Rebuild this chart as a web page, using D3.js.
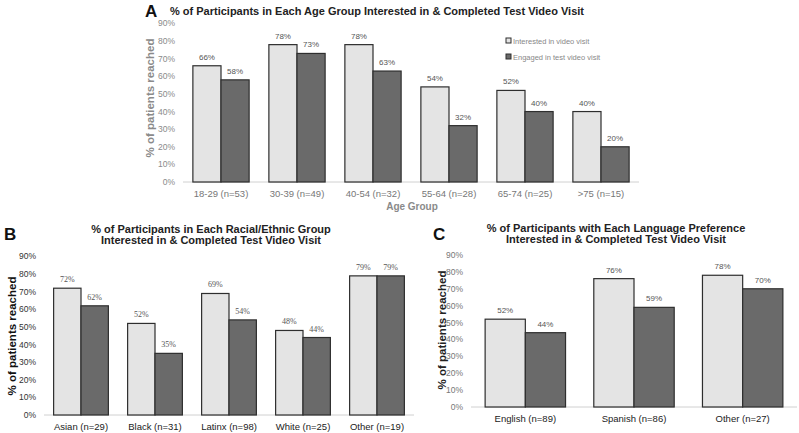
<!DOCTYPE html>
<html>
<head>
<meta charset="utf-8">
<script src="https://cdn.jsdelivr.net/npm/d3@7"></script>
<style>
  body { margin: 0; background: #fff; }
  svg { font-family: "Liberation Sans", Arial, sans-serif; }
</style>
</head>
<body>
<svg id="chart" width="799" height="433"></svg>
<script>
// panel A: age groups
var ageGroups = ["18-29 (n=53)", "30-39 (n=49)", "40-54 (n=32)", "55-64 (n=28)", "65-74 (n=25)", ">75 (n=15)"];
var ageInterested = [66, 78, 78, 54, 52, 40];
var ageEngaged = [58, 73, 63, 32, 40, 20];

// panel B: race / ethnicity
var raceGroups = ["Asian (n=29)", "Black (n=31)", "Latinx (n=98)", "White (n=25)", "Other (n=19)"];
var raceInterested = [72, 52, 69, 48, 79];
var raceEngaged = [62, 35, 54, 44, 79];

// panel C: language preference
var langGroups = ["English (n=89)", "Spanish (n=86)", "Other (n=27)"];
var langInterested = [52, 76, 78];
var langEngaged = [44, 59, 70];

var yTicks = [0, 10, 20, 30, 40, 50, 60, 70, 80, 90];
var seriesNames = ["Interested in video visit", "Engaged in test video visit"];

var LIGHT = "#e4e4e4", DARK = "#6a6a6a", EDGE = "#2e2e2e";

var svg = d3.select("#chart");

function drawPanel(o) {
    var g = svg.append("g");
    var x = d3.scaleBand().domain(o.cats).range([o.x0, o.x1]).paddingInner(0.26).paddingOuter(0.13);
    var xs = d3.scaleBand().domain([0, 1]).range([0, x.bandwidth()]);
    var y = d3.scaleLinear().domain([0, 90]).range([o.y0, o.y1]);

    // baseline
    g.append("line")
        .attr("x1", o.x0).attr("x2", o.x1)
        .attr("y1", y(0)).attr("y2", y(0))
        .attr("stroke", "#d0d0d0").attr("stroke-width", 1);

    // y tick labels
    g.selectAll(".yt").data(yTicks).enter().append("text")
        .attr("x", o.x0 - 8).attr("y", function (d) { return y(d); })
        .attr("dy", "0.35em").attr("text-anchor", "end")
        .attr("font-size", 8.5).attr("fill", o.tickColor)
        .text(function (d) { return d + "%"; });

    var rows = o.cats.map(function (c, i) {
        return [{ c: c, s: 0, v: o.a[i] }, { c: c, s: 1, v: o.b[i] }];
    });
    var bars = g.selectAll(".grp").data(rows).enter().append("g")
        .attr("transform", function (d) { return "translate(" + x(d[0].c) + ",0)"; });

    bars.selectAll("rect").data(function (d) { return d; }).enter().append("rect")
        .attr("x", function (d) { return xs(d.s); })
        .attr("width", xs.bandwidth())
        .attr("y", function (d) { return y(d.v); })
        .attr("height", function (d) { return y(0) - y(d.v); })
        .attr("fill", function (d) { return d.s ? DARK : LIGHT; })
        .attr("stroke", EDGE).attr("stroke-width", 1.2);

    bars.selectAll(".lbl").data(function (d) { return d; }).enter().append("text")
        .attr("x", function (d) { return xs(d.s) + xs.bandwidth() / 2; })
        .attr("y", function (d) { return y(d.v) - 6; })
        .attr("text-anchor", "middle")
        .attr("font-size", 8).attr("fill", "#555")
        .attr("font-family", o.labelFont || null)
        .text(function (d) { return d.v + "%"; });

    // x tick labels
    g.selectAll(".xt").data(o.cats).enter().append("text")
        .attr("x", function (d) { return x(d) + x.bandwidth() / 2; })
        .attr("y", y(0) + 15)
        .attr("text-anchor", "middle")
        .attr("font-size", 9.5).attr("fill", o.catColor)
        .text(function (d) { return d; });

    // y axis title
    g.append("text")
        .attr("transform", "translate(" + o.ylx + "," + o.yly + ") rotate(-90)")
        .attr("text-anchor", "middle").attr("dy", "0.35em")
        .attr("font-size", 11.5).attr("font-weight", "bold").attr("fill", o.ylColor)
        .text("% of patients reached");

    // panel letter
    g.append("text").attr("x", o.letterX).attr("y", o.letterY)
        .attr("font-size", 17).attr("font-weight", "bold").attr("fill", "#111")
        .text(o.letter);

    // chart title
    o.title.forEach(function (line, i) {
        g.append("text").attr("x", o.titleX).attr("y", o.titleY + i * 11)
            .attr("text-anchor", "middle")
            .attr("font-size", 11).attr("font-weight", "bold").attr("fill", "#222")
            .text(line);
    });
    return g;
}

var gA = drawPanel({
    cats: ageGroups, a: ageInterested, b: ageEngaged,
    x0: 183, x1: 639, y0: 182, y1: 23.5,
    tickColor: "#8a8a8a", catColor: "#777", ylColor: "#8a8a8a",
    ylx: 150, yly: 98, letter: "A", letterX: 145, letterY: 17,
    title: ["% of Participants in Each Age Group Interested in & Completed Test Video Visit"],
    titleX: 377, titleY: 15
});
gA.append("text").attr("x", 412).attr("y", 210)
    .attr("text-anchor", "middle").attr("font-size", 10).attr("font-weight", "bold")
    .attr("fill", "#8a8a8a").text("Age Group");

// legend
var leg = gA.selectAll(".leg").data(seriesNames).enter().append("g")
    .attr("transform", function (d, i) { return "translate(506," + (41 + i * 16) + ")"; });
leg.append("rect").attr("x", 0).attr("y", -3).attr("width", 5).attr("height", 5)
    .attr("fill", function (d, i) { return i ? DARK : LIGHT; })
    .attr("stroke", EDGE).attr("stroke-width", 1);
leg.append("text").attr("x", 7).attr("dy", "0.35em")
    .attr("font-size", 7.5).attr("fill", "#888").text(function (d) { return d; });

drawPanel({
    cats: raceGroups, a: raceInterested, b: raceEngaged,
    x0: 44, x1: 414, y0: 415, y1: 256.5,
    tickColor: "#333", catColor: "#222", ylColor: "#111",
    labelFont: "'Liberation Serif', 'Times New Roman', serif",
    ylx: 12, yly: 336, letter: "B", letterX: 4, letterY: 240,
    title: ["% of Participants in Each Racial/Ethnic Group", "Interested in & Completed Test Video Visit"],
    titleX: 211, titleY: 233
});

drawPanel({
    cats: langGroups, a: langInterested, b: langEngaged,
    x0: 471, x1: 797, y0: 407, y1: 255,
    tickColor: "#777", catColor: "#222", ylColor: "#222",
    ylx: 442, yly: 330, letter: "C", letterX: 433, letterY: 240,
    title: ["% of Participants with Each Language Preference", "Interested in & Completed Test Video Visit"],
    titleX: 616, titleY: 232
});
</script>
</body>
</html>
